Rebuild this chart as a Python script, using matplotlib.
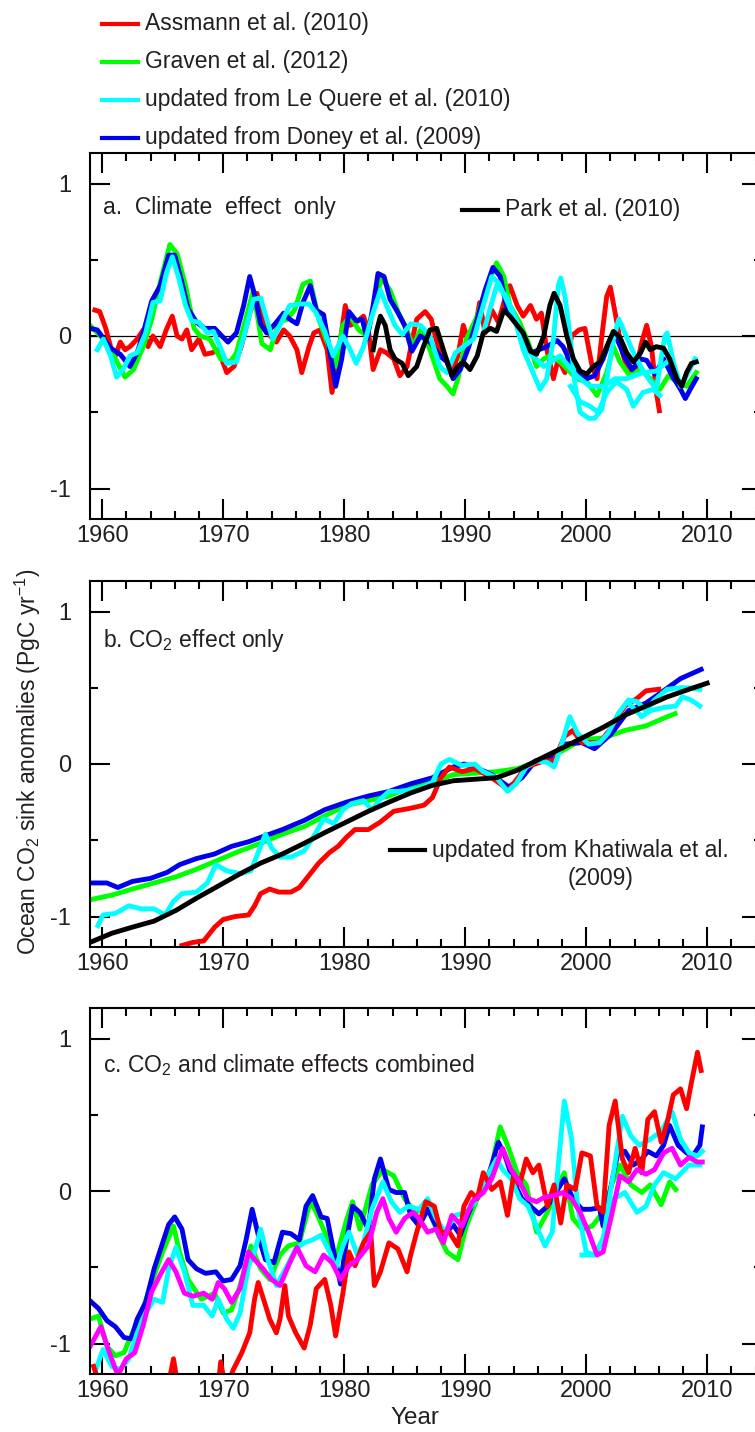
import matplotlib
matplotlib.use('Agg')
import matplotlib.pyplot as plt
from matplotlib.lines import Line2D
from matplotlib.ticker import MultipleLocator

# ---- panel a: climate effect only ----
a_red_yr = [1959.4, 1959.8, 1960.3, 1960.7, 1961.1, 1961.5, 1961.9, 1962.3, 1962.9, 1963.4, 1963.8, 1964.2, 1964.8,
            1965.3, 1965.8, 1966.2, 1966.6, 1967.0, 1967.4, 1968.0, 1968.5, 1969.1, 1969.6, 1970.3, 1970.9, 1971.5,
            1972.2, 1972.8, 1973.3, 1973.9, 1974.4, 1975.0, 1975.5, 1976.1, 1976.5, 1977.1, 1977.5, 1978.0, 1978.6,
            1979.0, 1979.5, 1980.1, 1980.5, 1981.0, 1981.6, 1982.0, 1982.4, 1983.0, 1983.5, 1984.1, 1984.6, 1985.2,
            1985.7, 1986.0, 1986.7, 1987.2, 1987.8, 1988.3, 1988.9, 1989.4, 1989.85, 1990.3, 1990.8, 1991.2, 1991.65,
            1992.2, 1992.75, 1993.2, 1993.7, 1994.3, 1994.8, 1995.4, 1995.9, 1996.3, 1996.75, 1997.3, 1997.7, 1998.25,
            1998.8, 1999.4, 1999.9, 2000.5, 2000.9, 2001.3, 2001.7, 2002.0, 2002.4, 2003.0, 2003.5, 2004.05, 2004.6,
            2005.0, 2005.4, 2005.8, 2006.05]
a_red = [0.17, 0.16, 0.05, -0.07, -0.13, -0.04, -0.09, -0.07, -0.02, 0.04, -0.07, 0.0, -0.07,
         0.04, 0.13, 0.0, -0.02, 0.04, -0.09, -0.02, -0.12, -0.11, -0.09, -0.24, -0.2, -0.07,
         0.15, 0.28, 0.11, 0.0, -0.04, 0.04, 0.0, -0.09, -0.24, -0.07, 0.02, 0.04, -0.09,
         -0.37, -0.13, 0.2, 0.07, 0.09, 0.13, 0.04, -0.22, -0.09, -0.11, -0.15, -0.26, -0.2,
         0.0, 0.11, 0.16, 0.11, -0.09, -0.13, -0.24, -0.13, 0.07, -0.04, 0.04, 0.22, 0.02,
         0.17, 0.09, 0.22, 0.33, 0.2, 0.13, 0.2, 0.11, 0.15, -0.09, -0.28, -0.15, -0.24,
         0.0, 0.04, 0.05, -0.2, -0.28, 0.0, 0.26, 0.32, 0.15, -0.11, -0.24, -0.24, -0.04,
         0.07, -0.07, -0.37, -0.49]

a_green_yr = [1959.0, 1960.1, 1961.1, 1961.9, 1962.6, 1963.4, 1964.1, 1964.8, 1965.6, 1966.2, 1966.9, 1967.6, 1968.1,
              1968.9, 1969.8, 1970.6, 1971.1, 1971.8, 1972.5, 1973.2, 1973.9, 1974.6, 1975.3, 1975.9, 1976.6, 1977.2,
              1977.9, 1978.6, 1979.3, 1979.9, 1980.5, 1981.2, 1981.9, 1982.6, 1983.1, 1983.8, 1984.5, 1985.2, 1985.7,
              1986.3, 1987.1, 1987.9, 1988.5, 1989.0, 1989.4, 1990.1, 1991.0, 1991.8, 1992.6, 1993.2, 1993.7, 1994.5,
              1995.2, 1995.9, 1996.5, 1997.0, 1997.85, 1998.5, 1999.2, 2000.05, 2000.9, 2001.7, 2002.25, 2002.8,
              2003.6, 2004.5, 2005.3, 2006.1, 2006.8, 2007.5, 2008.3, 2009.1]
a_green = [0.07, -0.02, -0.15, -0.27, -0.22, -0.07, 0.11, 0.35, 0.6, 0.54, 0.33, 0.05, 0.0,
           -0.02, -0.15, -0.17, -0.11, 0.09, 0.3, -0.05, -0.09, 0.09, 0.11, 0.17, 0.34, 0.36,
           0.11, -0.04, -0.2, 0.07, 0.13, 0.04, 0.0, 0.24, 0.38, 0.3, 0.15, 0.04, -0.07,
           0.04, -0.09, -0.28, -0.33, -0.38, -0.28, -0.02, 0.13, 0.33, 0.48, 0.39, 0.2, 0.09,
           -0.04, -0.2, -0.15, -0.13, -0.17, -0.22, -0.28, -0.3, -0.39, -0.24, -0.07, -0.17,
           -0.26, -0.22, -0.28, -0.35, -0.26, -0.3, -0.33, -0.24]

a_blue_yr = [1959.0, 1959.6, 1960.7, 1961.5, 1962.3, 1962.9, 1963.4, 1964.1, 1964.8, 1965.5, 1966.0, 1966.6, 1967.1,
             1967.8, 1968.5, 1969.3, 1969.9, 1970.4, 1971.1, 1971.7, 1972.2, 1972.6, 1973.1, 1973.6, 1974.3, 1975.0,
             1975.5, 1976.1, 1976.6, 1977.2, 1977.7, 1978.3, 1978.8, 1979.3, 1979.8, 1980.4, 1981.0, 1981.5, 1981.9,
             1982.4, 1982.8, 1983.3, 1983.8, 1984.4, 1985.0, 1985.6, 1986.3, 1987.1, 1987.9, 1988.5, 1989.0, 1989.6,
             1990.3, 1991.0, 1991.65, 1992.3, 1992.9, 1993.4, 1994.1, 1994.8, 1995.5, 1996.1, 1996.75, 1997.6, 1998.1,
             1998.7, 1999.2, 2000.05, 2000.7, 2001.4, 2002.0, 2002.5, 2003.2, 2003.8, 2004.5, 2005.0, 2005.7, 2006.4,
             2007.1, 2007.8, 2008.2, 2008.6, 2009.1]
a_blue = [0.05, 0.04, -0.08, -0.12, -0.2, -0.11, 0.02, 0.23, 0.33, 0.53, 0.53, 0.35, 0.18,
          0.09, 0.05, 0.05, 0.0, -0.04, 0.02, 0.2, 0.39, 0.27, 0.08, 0.02, 0.08, 0.15,
          0.11, 0.08, 0.22, 0.33, 0.17, 0.14, -0.09, -0.33, -0.15, 0.16, 0.10, 0.11, -0.02,
          0.2, 0.41, 0.39, 0.24, 0.16, 0.07, -0.1, 0.0, -0.04, -0.13, -0.17, -0.28, -0.22,
          -0.07, 0.11, 0.3, 0.45, 0.39, 0.2, 0.11, -0.02, -0.11, -0.09, -0.07, -0.03, -0.07,
          -0.17, -0.25, -0.28, -0.26, -0.15, -0.02, -0.01, -0.14, -0.22, -0.15, -0.16, -0.25, -0.15,
          -0.26, -0.35, -0.41, -0.35, -0.28]

a_cyan_yr = [1959.6, 1960.1, 1960.7, 1961.2, 1961.8, 1962.3, 1962.9, 1963.6, 1964.2, 1964.8, 1965.3, 1965.8, 1966.3,
             1966.9, 1967.4, 1968.0, 1968.7, 1969.2, 1969.8, 1970.3, 1971.1, 1971.8, 1972.5, 1973.1, 1973.6, 1974.1,
             1974.7, 1975.5, 1976.4, 1977.1, 1977.7, 1978.4, 1979.1, 1979.9, 1980.5, 1981.0, 1981.6, 1982.3, 1983.0,
             1983.5, 1984.2, 1984.8, 1985.5, 1986.3, 1987.1, 1987.9, 1988.5, 1989.2, 1989.85, 1990.7, 1991.5, 1992.2,
             1992.75, 1993.4, 1994.1, 1994.8, 1995.5, 1996.2, 1996.75, 1997.3, 1997.7, 1997.9, 1998.25, 1998.7, 1999.1,
             1999.5, 2000.2, 2000.7, 2001.3, 2001.8, 2002.25, 2002.7, 2003.2, 2003.8, 2004.5, 2005.15, 2005.8, 2006.5,
             2006.7, 2007.2, 2007.8, 2008.3, 2009.0]
a_cyan = [-0.09, -0.02, -0.13, -0.27, -0.21, -0.13, -0.11, 0.02, 0.22, 0.23, 0.41, 0.52, 0.39,
          0.2, 0.1, 0.09, 0.02, 0.03, -0.08, -0.18, -0.17, 0.02, 0.24, 0.25, 0.11, -0.02,
          0.07, 0.2, 0.21, 0.21, 0.15, 0.03, -0.13, 0.0, -0.09, -0.18, -0.07, 0.13, 0.3,
          0.2, 0.07, 0.01, 0.08, 0.07, 0.0, -0.2, -0.24, -0.11, -0.07, -0.02, 0.2, 0.39,
          0.35, 0.24, 0.11, -0.09, -0.22, -0.35, -0.28, -0.02, 0.33, 0.38, 0.26, -0.02, -0.33,
          -0.5, -0.54, -0.54, -0.48, -0.24, -0.02, 0.11, 0.02, -0.09, -0.2, -0.28, -0.35, 0.0,
          0.02, -0.17, -0.33, -0.26, -0.15]
# other Le Quere versions
a_cyan2_yr = [1998.7, 1999.5, 2000.3, 2001.0, 2001.7, 2002.5, 2003.35, 2003.9, 2004.7, 2005.55, 2006.1]
a_cyan2 = [-0.33, -0.43, -0.46, -0.5, -0.37, -0.3, -0.35, -0.46, -0.37, -0.35, -0.39]
a_cyan3_yr = [1991.5, 1992.6, 1993.4, 1994.3, 1995.2, 1996.5, 1997.85, 1999.2, 2000.3, 2001.4, 2002.4, 2003.35,
              2004.7, 2005.8, 2006.7]
a_cyan3 = [0.02, 0.33, 0.26, 0.09, -0.1, -0.2, -0.13, -0.26, -0.33, -0.33, -0.28, -0.28, -0.24, -0.23, -0.17]

a_black_yr = [1982.4, 1982.7, 1983.0, 1983.4, 1983.8, 1984.2, 1984.8, 1985.3, 1986.0, 1986.55, 1987.1, 1987.65,
              1988.2, 1988.9, 1989.4, 1989.85, 1990.4, 1991.0, 1991.5, 1992.1, 1992.6, 1993.2, 1993.7, 1994.3, 1994.8,
              1995.4, 1995.9, 1996.5, 1997.0, 1997.35, 1997.85, 1998.4, 1998.95, 1999.5, 2000.05, 2000.6, 2001.15,
              2001.7, 2002.25, 2002.8, 2003.35, 2003.9, 2004.5, 2004.9, 2005.3, 2005.8, 2006.4, 2006.9, 2007.5,
              2007.9, 2008.3, 2008.7, 2009.1]
a_black = [-0.09, 0.04, 0.13, 0.07, -0.09, -0.15, -0.18, -0.26, -0.2, -0.07, 0.04, 0.05,
           -0.09, -0.26, -0.2, -0.17, -0.22, -0.13, 0.02, 0.05, 0.03, 0.17, 0.13, 0.07, 0.02,
           -0.1, -0.12, 0.0, 0.2, 0.28, 0.2, 0.0, -0.15, -0.23, -0.25, -0.2, -0.17,
           -0.07, 0.03, -0.01, -0.11, -0.17, -0.11, -0.04, -0.09, -0.07, -0.08, -0.15, -0.28,
           -0.33, -0.24, -0.18, -0.17]

# ---- panel b: CO2 effect only ----
b_blue_yr = [1959.0, 1960.4, 1961.3, 1962.5, 1964.0, 1965.4, 1966.4, 1967.8, 1969.3, 1970.7, 1972.1, 1973.5, 1974.9,
             1976.7, 1978.4, 1980.2, 1982.0, 1983.7, 1985.5, 1987.3, 1989.0, 1989.9, 1990.8, 1992.2, 1993.6, 1994.7,
             1995.8, 1997.2, 1998.2, 1999.65, 2000.7, 2002.1, 2003.5, 2004.95, 2006.4, 2007.8, 2009.5]
b_blue = [-0.78, -0.78, -0.81, -0.77, -0.75, -0.71, -0.66, -0.62, -0.59, -0.54, -0.51, -0.47, -0.43,
          -0.37, -0.30, -0.25, -0.21, -0.18, -0.13, -0.09, -0.02, 0.0, -0.02, -0.07, -0.15, -0.09,
          0.02, 0.05, 0.13, 0.14, 0.10, 0.20, 0.35, 0.40, 0.48, 0.56, 0.62]

b_green_yr = [1959.0, 1960.8, 1962.5, 1964.3, 1966.1, 1967.8, 1969.6, 1971.4, 1973.1, 1974.9, 1976.7, 1978.4, 1980.2,
              1982.0, 1983.7, 1985.5, 1987.3, 1989.0, 1990.8, 1992.6, 1994.35, 1996.1, 1997.9, 1999.65, 2001.4,
              2003.2, 2004.95, 2006.4, 2007.35]
b_green = [-0.89, -0.86, -0.82, -0.78, -0.74, -0.69, -0.63, -0.57, -0.52, -0.46, -0.41, -0.34, -0.27,
           -0.24, -0.21, -0.15, -0.12, -0.07, -0.06, -0.05, -0.03, 0.02, 0.08, 0.16, 0.17,
           0.22, 0.25, 0.30, 0.33]

b_cyan_yr = [1959.65, 1960.07, 1961.1, 1962.2, 1963.25, 1964.3, 1965.2, 1965.9, 1966.6, 1967.8, 1968.7, 1969.4,
             1970.3, 1971.4, 1972.3, 1973.0, 1973.5, 1974.0, 1974.7, 1975.6, 1976.7, 1977.6, 1978.3, 1979.15, 1979.9,
             1980.6, 1981.6, 1982.3, 1983.0, 1983.7, 1984.45, 1985.5, 1986.6, 1987.3, 1988.0, 1988.7, 1989.75,
             1990.8, 1991.5, 1992.6, 1993.5, 1994.2, 1995.05, 1995.9, 1996.8, 1997.35, 1997.9, 1998.65, 1999.3,
             2000.2, 2001.1, 2001.8, 2002.65, 2003.5, 2004.2, 2004.95, 2005.65, 2006.7, 2007.8, 2008.5, 2009.4]
b_cyan = [-1.06, -0.99, -0.98, -0.93, -0.95, -0.95, -0.99, -0.90, -0.85, -0.84, -0.78, -0.66,
          -0.70, -0.72, -0.70, -0.56, -0.46, -0.55, -0.61, -0.61, -0.57, -0.46, -0.36, -0.39, -0.30,
          -0.26, -0.24, -0.30, -0.23, -0.18, -0.18, -0.17, -0.15, -0.12, 0.0, 0.03, -0.01,
          0.0, -0.05, -0.09, -0.18, -0.13, -0.02, 0.02, 0.01, -0.02, 0.11, 0.31, 0.20,
          0.13, 0.14, 0.20, 0.33, 0.42, 0.41, 0.35, 0.42, 0.49, 0.50, 0.50, 0.49]
b_cyan2_yr = [2003.5, 2004.6, 2005.3, 2006.4, 2007.4, 2007.95, 2008.65, 2009.4]
b_cyan2 = [0.40, 0.31, 0.35, 0.37, 0.38, 0.44, 0.42, 0.38]

b_red_yr = [1966.6, 1967.5, 1968.4, 1969.3, 1970.0, 1971.0, 1972.1, 1972.6, 1973.1, 1973.85, 1974.6, 1975.6, 1976.3,
            1977.0, 1977.9, 1978.8, 1979.5, 1980.2, 1980.9, 1982.0, 1983.0, 1984.1, 1985.5, 1986.6, 1987.3, 1988.0,
            1988.7, 1989.75, 1990.8, 1992.2, 1993.6, 1995.05, 1996.5, 1997.35, 1998.2, 1998.9, 1999.65, 2001.1,
            2002.1, 2003.2, 2004.2, 2004.95, 2006.0]
b_red = [-1.19, -1.17, -1.16, -1.07, -1.02, -1.0, -0.99, -0.93, -0.85, -0.82, -0.84, -0.84, -0.81,
         -0.74, -0.65, -0.58, -0.54, -0.48, -0.43, -0.43, -0.38, -0.31, -0.29, -0.27, -0.22, -0.09,
         -0.02, -0.05, -0.03, -0.09, -0.17, -0.02, 0.02, 0.02, 0.18, 0.22, 0.14, 0.14,
         0.24, 0.38, 0.43, 0.48, 0.49]

b_black_yr = [1959.0, 1960.8, 1962.5, 1964.3, 1966.1, 1967.8, 1969.6, 1971.4, 1973.1, 1974.9, 1976.7, 1978.4, 1980.2,
              1982.0, 1983.7, 1985.5, 1987.3, 1989.0, 1990.8, 1992.6, 1994.35, 1996.1, 1997.9, 1999.65, 2001.4,
              2003.2, 2004.95, 2006.7, 2008.5, 2010.0]
b_black = [-1.17, -1.11, -1.07, -1.03, -0.96, -0.88, -0.80, -0.72, -0.65, -0.59, -0.52, -0.45, -0.38,
           -0.31, -0.25, -0.19, -0.14, -0.11, -0.10, -0.09, -0.04, 0.03, 0.10, 0.17, 0.24,
           0.32, 0.38, 0.44, 0.49, 0.53]

# ---- panel c: CO2 and climate combined ----
c_blue_yr = [1959.0, 1959.7, 1960.4, 1961.1, 1961.8, 1962.4, 1962.9, 1963.6, 1964.3, 1965.0, 1965.5, 1966.0, 1966.6,
             1967.1, 1967.8, 1968.55, 1969.4, 1970.0, 1970.7, 1971.4, 1971.9, 1972.4, 1973.0, 1973.5, 1974.2, 1974.9,
             1975.6, 1976.3, 1976.85, 1977.4, 1978.1, 1978.6, 1979.15, 1979.7, 1980.2, 1980.7, 1981.3, 1982.0, 1982.5,
             1983.0, 1983.7, 1984.3, 1985.0, 1985.5, 1986.2, 1986.9, 1987.6, 1988.3, 1989.0, 1989.6, 1990.1, 1990.8,
             1991.5, 1992.2, 1992.75, 1993.3, 1994.0, 1994.7, 1995.4, 1996.1, 1996.8, 1997.5, 1998.2, 1998.9, 1999.65,
             2000.35, 2001.1, 2001.4, 2001.9, 2002.65, 2003.2, 2003.9, 2004.6, 2005.1, 2005.8, 2006.4, 2006.9, 2007.6,
             2008.3, 2008.8, 2009.4, 2009.6]
c_blue = [-0.72, -0.77, -0.85, -0.89, -0.96, -0.97, -0.84, -0.73, -0.51, -0.34, -0.22, -0.17, -0.25,
          -0.45, -0.51, -0.54, -0.53, -0.59, -0.58, -0.49, -0.32, -0.12, -0.32, -0.45, -0.47, -0.27,
          -0.28, -0.32, -0.10, -0.03, -0.17, -0.18, -0.40, -0.61, -0.32, -0.10, -0.14, -0.25, 0.08,
          0.21, 0.01, -0.01, -0.01, -0.16, -0.23, -0.12, -0.23, -0.29, -0.22, -0.29, -0.18, -0.05,
          0.01, 0.17, 0.32, 0.23, 0.06, -0.05, -0.10, -0.15, -0.10, -0.01, 0.08, -0.05, -0.12,
          -0.12, -0.11, -0.23, -0.03, 0.26, 0.26, 0.17, 0.21, 0.26, 0.23, 0.30, 0.43, 0.30,
          0.25, 0.23, 0.30, 0.42]

c_green_yr = [1959.0, 1959.7, 1960.4, 1961.1, 1961.8, 1962.5, 1963.25, 1964.1, 1965.0, 1965.9, 1966.4, 1967.1, 1968.2,
              1969.3, 1970.0, 1970.7, 1971.4, 1972.3, 1973.1, 1973.85, 1974.7, 1975.4, 1976.3, 1977.2, 1977.7, 1978.4,
              1979.3, 1980.2, 1980.7, 1981.3, 1982.3, 1983.2, 1984.1, 1985.0, 1985.9, 1986.9, 1987.8, 1988.5, 1989.4,
              1990.1, 1991.0, 1991.9, 1992.9, 1993.6, 1994.3, 1995.05, 1995.9, 1996.8, 1997.7, 1998.2, 1998.9, 1999.65,
              2000.5, 2001.4, 2002.1, 2002.8, 2003.7, 2004.6, 2005.3, 2006.2, 2006.9, 2007.4]
c_green = [-0.84, -0.82, -1.02, -1.08, -1.06, -0.93, -0.80, -0.60, -0.40, -0.23, -0.40, -0.58, -0.71,
           -0.67, -0.80, -0.78, -0.62, -0.36, -0.51, -0.58, -0.42, -0.36, -0.34, -0.07, -0.14, -0.27,
           -0.45, -0.19, -0.07, -0.25, 0.04, 0.14, 0.10, -0.05, -0.14, -0.10, -0.29, -0.40, -0.45,
           -0.23, -0.05, 0.06, 0.42, 0.28, 0.12, 0.04, -0.27, -0.14, 0.04, 0.12, -0.18, -0.25,
           -0.23, -0.14, 0.04, 0.17, 0.04, -0.01, 0.04, -0.09, 0.06, 0.01]

c_cyan_yr = [1959.5, 1960.07, 1960.8, 1961.5, 1962.2, 1962.9, 1963.6, 1964.3, 1965.0, 1965.5, 1966.1, 1966.8, 1967.5,
             1968.4, 1969.1, 1969.6, 1970.3, 1970.85, 1971.4, 1972.1, 1972.6, 1973.1, 1973.7, 1974.4, 1975.3, 1976.0,
             1976.7, 1977.4, 1978.1, 1978.8, 1979.3, 1979.9, 1980.4, 1981.1, 1981.6, 1982.3, 1983.2, 1983.9, 1984.6,
             1985.3, 1986.2, 1986.9, 1987.6, 1988.3, 1989.2, 1990.1, 1990.8, 1991.7, 1992.6, 1993.1, 1993.8, 1994.5,
             1995.2, 1996.1, 1996.6, 1997.2, 1997.7, 1998.2, 1998.8, 1999.3, 2000.0, 2000.7, 2001.4, 2002.1, 2003.0,
             2003.7, 2004.4, 2005.3, 2006.2, 2007.1, 2007.8, 2008.5, 2009.2, 2009.6]
c_cyan = [-1.17, -1.04, -1.15, -1.17, -1.10, -0.93, -0.80, -0.71, -0.73, -0.51, -0.37, -0.53, -0.75,
          -0.75, -0.82, -0.71, -0.84, -0.90, -0.80, -0.49, -0.40, -0.25, -0.45, -0.62, -0.49, -0.38,
          -0.34, -0.32, -0.29, -0.40, -0.51, -0.36, -0.27, -0.42, -0.34, -0.12, 0.06, -0.07, -0.14,
          -0.10, -0.12, -0.05, -0.18, -0.27, -0.16, -0.14, -0.07, 0.08, 0.21, 0.14, 0.08, -0.05,
          -0.10, -0.27, -0.36, -0.27, 0.17, 0.59, 0.34, -0.10, -0.40, -0.42, -0.32, 0.04, 0.49,
          0.36, 0.30, 0.34, 0.39, 0.52, 0.34, 0.25, 0.23, 0.26]
c_cyan2_yr = [1999.65, 2000.7, 2001.4, 2002.3, 2003.2, 2004.2, 2004.95, 2005.65, 2006.4, 2007.4, 2008.5, 2009.4]
c_cyan2 = [-0.42, -0.42, -0.31, -0.05, -0.01, -0.14, -0.10, 0.04, 0.12, 0.08, 0.17, 0.17]

c_red_yr = [1959.3, 1959.7, 1960.5, 1962.0, 1964.0, 1965.4, 1965.9, 1966.3, 1967.3, 1967.8, 1968.3, 1969.5, 1969.8,
            1970.2, 1970.85, 1971.55, 1972.2, 1972.6, 1972.9, 1973.5, 1973.85, 1974.4, 1974.7, 1975.1, 1975.4, 1976.0,
            1976.7, 1977.2, 1977.7, 1978.4, 1978.9, 1979.3, 1979.9, 1980.4, 1980.9, 1981.6, 1982.2, 1982.5, 1983.0,
            1983.7, 1984.45, 1985.2, 1985.5, 1986.0, 1986.75, 1987.45, 1988.0, 1988.7, 1989.4, 1989.9, 1990.5, 1991.0,
            1991.5, 1992.2, 1992.9, 1993.5, 1994.0, 1994.5, 1995.05, 1995.6, 1996.1, 1996.8, 1997.35, 1997.9, 1998.4,
            1999.1, 1999.65, 2000.35, 2000.9, 2001.4, 2001.9, 2002.4, 2003.0, 2003.5, 2004.05, 2004.6, 2005.1, 2005.65,
            2006.2, 2006.7, 2007.2, 2007.8, 2008.3, 2008.65, 2009.2, 2009.5]
c_red = [-1.15, -1.25, -1.4, -1.5, -1.45, -1.3, -1.10, -1.3, -1.3, -1.22, -1.4, -1.35, -1.12,
         -1.3, -1.17, -1.06, -0.93, -0.71, -0.60, -0.75, -0.84, -0.93, -0.84, -0.62, -0.82, -0.93,
         -1.03, -0.88, -0.64, -0.58, -0.75, -0.95, -0.67, -0.40, -0.49, -0.34, -0.27, -0.62, -0.53,
         -0.34, -0.38, -0.53, -0.42, -0.27, -0.07, -0.10, -0.27, -0.27, -0.36, -0.10, -0.01, -0.05,
         0.12, 0.01, 0.06, -0.16, 0.10, 0.04, 0.21, 0.12, 0.17, -0.10, 0.04, -0.21, 0.04,
         0.01, 0.25, 0.23, -0.10, -0.14, 0.43, 0.59, 0.21, 0.12, 0.28, 0.12, 0.47, 0.52,
         0.32, 0.45, 0.63, 0.67, 0.54, 0.69, 0.91, 0.79]

c_mag_yr = [1959.0, 1959.9, 1960.6, 1961.3, 1962.0, 1962.7, 1963.4, 1964.1, 1964.8, 1965.5, 1966.1, 1966.8, 1967.5,
            1968.4, 1969.1, 1969.6, 1970.1, 1970.7, 1971.4, 1972.1, 1972.6, 1973.3, 1974.0, 1974.7, 1975.4, 1976.1,
            1976.85, 1977.6, 1978.3, 1979.0, 1979.7, 1980.4, 1981.1, 1982.0, 1982.7, 1983.2, 1983.7, 1984.3, 1985.0,
            1985.7, 1986.2, 1986.9, 1987.6, 1988.2, 1988.9, 1989.75, 1990.6, 1991.5, 1992.2, 1993.1, 1993.8, 1994.5,
            1995.2, 1995.9, 1996.6, 1997.35, 1998.05, 1998.8, 1999.5, 2000.2, 2000.9, 2001.4, 2002.1, 2002.8, 2003.5,
            2004.2, 2004.95, 2005.65, 2006.4, 2007.1, 2007.8, 2008.5, 2009.2, 2009.6]
c_mag = [-1.02, -0.89, -1.06, -1.21, -1.10, -1.06, -0.88, -0.66, -0.55, -0.45, -0.53, -0.67, -0.69,
         -0.67, -0.71, -0.60, -0.64, -0.73, -0.64, -0.40, -0.45, -0.51, -0.58, -0.62, -0.49, -0.37,
         -0.49, -0.53, -0.42, -0.47, -0.58, -0.49, -0.45, -0.36, -0.14, -0.05, -0.18, -0.27, -0.18,
         -0.14, -0.18, -0.27, -0.25, -0.34, -0.16, -0.23, -0.07, -0.01, 0.08, 0.28, 0.14, 0.06,
         -0.05, -0.07, -0.04, -0.03, -0.01, -0.05, -0.14, -0.27, -0.42, -0.40, -0.16, 0.10, 0.06,
         0.14, 0.11, 0.14, 0.25, 0.28, 0.17, 0.22, 0.19, 0.19]

legend_labels = ['Assmann et al. (2010)', 'Graven et al. (2012)',
                 'updated from Le Quere et al. (2010)', 'updated from Doney et al. (2009)']

RED, GREEN, CYAN, BLUE, MAG = '#ff0000', '#00ff00', '#00ffff', '#0000ee', '#ff00ff'
TXT = '#231f20'
LW = 3.5

plt.rcParams['font.family'] = ['Liberation Sans', 'DejaVu Sans']
plt.rcParams['mathtext.fontset'] = 'custom'
plt.rcParams['mathtext.rm'] = 'Liberation Sans'
plt.rcParams['mathtext.it'] = 'Liberation Sans:italic'
plt.rcParams['axes.unicode_minus'] = False

W, H = 755, 1432
fig = plt.figure(figsize=(W / 100, H / 100), dpi=100)


def box(top, bottom):
    # pixel rows -> figure fraction
    return [90 / W, 1 - bottom / H, 671.6 / W, (bottom - top) / H]


def style(ax):
    ax.set_xlim(1959, 2014.5)
    ax.set_ylim(-1.2, 1.2)
    ax.xaxis.set_major_locator(MultipleLocator(10))
    ax.xaxis.set_minor_locator(MultipleLocator(2))
    ax.set_yticks([-1, 0, 1])
    ax.set_yticklabels(['-1', '0', '1'])
    ax.yaxis.set_minor_locator(MultipleLocator(0.5))
    ax.tick_params(which='both', direction='in', top=True, right=True, width=1.5,
                   labelsize=17, labelcolor=TXT)
    ax.tick_params(which='major', length=14.5)
    ax.tick_params(which='minor', length=6)
    ax.tick_params(axis='x', pad=4)
    ax.tick_params(axis='y', pad=13.5)
    for s in ax.spines.values():
        s.set_linewidth(1.5)


def px(x, y):
    return x / W, 1 - y / H


# panel a
ax_a = fig.add_axes(box(153, 519))
style(ax_a)
ax_a.axhline(0, color='black', lw=0.9, zorder=1)
ax_a.plot(a_red_yr, a_red, color=RED, lw=LW)
ax_a.plot(a_green_yr, a_green, color=GREEN, lw=LW)
ax_a.plot(a_blue_yr, a_blue, color=BLUE, lw=LW)
ax_a.plot(a_cyan2_yr, a_cyan2, color=CYAN, lw=LW)
ax_a.plot(a_cyan3_yr, a_cyan3, color=CYAN, lw=LW)
ax_a.plot(a_cyan_yr, a_cyan, color=CYAN, lw=LW)
ax_a.plot(a_black_yr, a_black, color='black', lw=LW)

# panel b
ax_b = fig.add_axes(box(581, 947))
style(ax_b)
ax_b.plot(b_green_yr, b_green, color=GREEN, lw=LW)
ax_b.plot(b_blue_yr, b_blue, color=BLUE, lw=LW)
ax_b.plot(b_red_yr, b_red, color=RED, lw=LW)
ax_b.plot(b_cyan2_yr, b_cyan2, color=CYAN, lw=LW)
ax_b.plot(b_cyan_yr, b_cyan, color=CYAN, lw=LW)
ax_b.plot(b_black_yr, b_black, color='black', lw=LW)

# panel c
ax_c = fig.add_axes(box(1008, 1374))
style(ax_c)
ax_c.plot(c_green_yr, c_green, color=GREEN, lw=LW)
ax_c.plot(c_blue_yr, c_blue, color=BLUE, lw=LW)
ax_c.plot(c_cyan2_yr, c_cyan2, color=CYAN, lw=LW)
ax_c.plot(c_cyan_yr, c_cyan, color=CYAN, lw=LW)
ax_c.plot(c_red_yr, c_red, color=RED, lw=LW)
ax_c.plot(c_mag_yr, c_mag, color=MAG, lw=LW)

# legend on top of the figure
for y, col, lab in zip([24, 62, 100, 138], [RED, GREEN, CYAN, BLUE], legend_labels):
    fig.add_artist(Line2D([102 / W, 138 / W], [1 - y / H] * 2, color=col, lw=3))
    fig.text(*px(145, y + 6), lab, fontsize=16.5, color=TXT, va='baseline')

# keys inside panels
fig.add_artist(Line2D([462 / W, 498 / W], [1 - 210 / H] * 2, color='black', lw=3))
fig.text(*px(505, 216), 'Park et al. (2010)', fontsize=16.5, color=TXT, va='baseline')
fig.add_artist(Line2D([390 / W, 425 / W], [1 - 850 / H] * 2, color='black', lw=3))
fig.text(*px(432, 857), 'updated from Khatiwala et al.', fontsize=16.5, color=TXT, va='baseline')
fig.text(*px(601, 885), '(2009)', fontsize=16.5, color=TXT, va='baseline', ha='center')

# panel titles
sub = dict(fontsize=16.5, color=TXT, va='baseline')
fig.text(*px(103, 214), 'a.  Climate  effect  only', **sub)
fig.text(*px(103, 647), 'b. CO$_2$ effect only', **sub)
fig.text(*px(103, 1072), 'c. CO$_2$ and climate effects combined', **sub)

fig.text(*px(28, 762), 'Ocean CO$_2$ sink anomalies (PgC yr$^{-1}$)', rotation=90,
         ha='center', va='center', fontsize=16.5, color=TXT)
fig.text(*px(415, 1418), 'Year', ha='center', va='center', fontsize=17.5, color=TXT)

fig.savefig('out.png', dpi=100)
